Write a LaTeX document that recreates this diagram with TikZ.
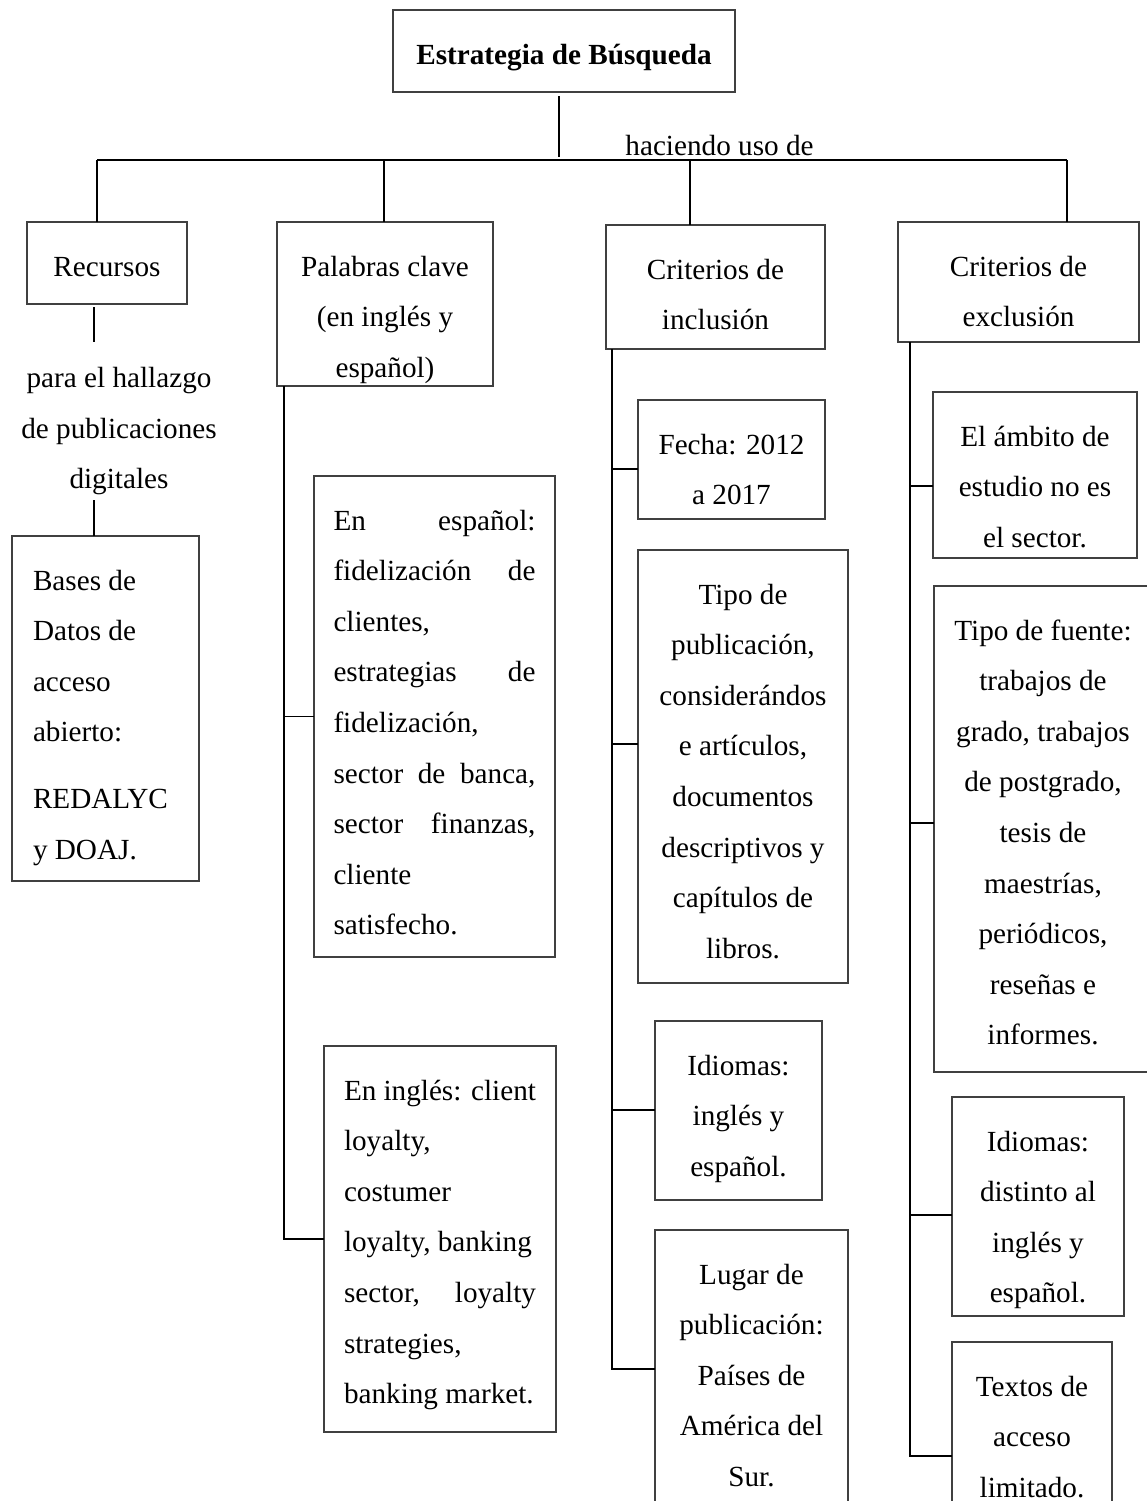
\documentclass[tikz,border=0pt]{standalone}
\usepackage{fontspec}
\setmainfont{Liberation Serif}
\newcommand\fs{\rule{0pt}{27pt}}
\newcommand\jl[1]{\leavevmode\hbox to\linewidth{#1}}
% name, left, top, right, bottom (px), text width (px), content
\newcommand\mybx[7]{\node[bx, minimum width={0.5pt*(#4-#2)}, minimum height={0.5pt*(#5-#3)}] (#1) at ({(#2+#4)/2},{(#3+#5)/2}) {\parbox[c][\dimexpr(#5pt-#3pt)/2\relax][t]{\dimexpr#6pt/2\relax}{#7}};}
\begin{document}
\begin{tikzpicture}[x=0.5pt,y=-0.5pt,
  bx/.style={draw=black!75, line width=0.7pt, inner sep=0pt, outer sep=0pt},
  conn/.style={line width=0.9pt, draw=black},
  every node/.style={font=\fontsize{14.6}{25.3}\selectfont}]
\useasboundingbox (0,0) rectangle (1147,1501);
\clip (0,0) rectangle (1147,1501);
\fill[white] (0,0) rectangle (1147,1501);

% level 0 and 1
\mybx{top}{393}{10}{735}{92}{326}{\centering\fs\textbf{Estrategia de Búsqueda}}
\mybx{rec}{27}{222}{187}{304}{144}{\centering\fs Recursos}
\mybx{pal}{277}{222}{493}{386}{200}{\centering\fs Palabras clave\\(en inglés y\\español)}
\mybx{incl}{606}{225}{825}{349}{203}{\centering\fs Criterios de\\inclusión}
\mybx{excl}{898}{222}{1139}{342}{225}{\centering\fs Criterios de\\exclusión}

% Recursos branch
\node[inner sep=0pt, anchor=north] (para) at (119,333) {\parbox[t]{110pt}{\centering\fs para el hallazgo\\de publicaciones\\digitales}};
\mybx{bases}{12}{536}{199}{881}{145}{\raggedright\fs Bases de\\Datos de\\acceso\\abierto:\\[8pt]REDALYC\\y DOAJ.}

% Palabras clave branch
\mybx{esp}{314}{476}{555}{957}{202}{\raggedright\fs\jl{En\hfill español:}\\\jl{fidelización\hfill de}\\clientes,\\\jl{estrategias\hfill de}\\fidelización,\\\jl{sector\hfill de\hfill banca,}\\\jl{sector\hfill finanzas,}\\cliente\\satisfecho.}
\mybx{ing}{324}{1046}{556}{1432}{192}{\raggedright\fs En inglés: client\\loyalty,\\costumer\\loyalty, banking\\\jl{sector,\hfill loyalty}\\strategies,\\banking market.}

% Inclusion branch
\mybx{fecha}{638}{400}{825}{519}{171}{\centering\fs Fecha: 2012\\a 2017}
\mybx{tpub}{638}{550}{848}{983}{194}{\centering\fs Tipo de\\publicación,\\considerándos\\e artículos,\\documentos\\descriptivos y\\capítulos de\\libros.}
\mybx{idi}{655}{1021}{822}{1200}{151}{\centering\fs Idiomas:\\inglés y\\español.}
\mybx{lugar}{655}{1230}{848}{1540}{177}{\centering\fs Lugar de\\publicación:\\Países de\\América del\\Sur.}

% Exclusion branch
\mybx{amb}{933}{392}{1137}{558}{188}{\centering\fs El ámbito de\\estudio no es\\el sector.}
\mybx{fuente}{934}{586}{1152}{1072}{202}{\centering\fs Tipo de fuente:\\trabajos de\\grado, trabajos\\de postgrado,\\tesis de\\maestrías,\\periódicos,\\reseñas e\\informes.}
\mybx{idx}{952}{1097}{1124}{1316}{156}{\centering\fs Idiomas:\\distinto al\\inglés y\\español.}
\mybx{textos}{952}{1342}{1112}{1540}{144}{\centering\fs Textos de\\acceso\\limitado.}

\node[anchor=base, inner sep=0pt] (uso) at (719.5,155) {haciendo uso de};

% connectors: top level
\coordinate (b1) at (97,160);
\coordinate (b2) at (384,160);
\coordinate (b3) at (690,160);
\coordinate (b4) at (1067,160);
\draw[conn] ([shift={(-2.5pt,-2pt)}]top.south) -- ++(0,61);
\draw[conn] (b1) -- (b4);
\draw[conn] (b1) -- (b1 |- rec.north);
\draw[conn] (b2) -- (b2 |- pal.north);
\draw[conn] (b3) -- (b3 |- incl.north);
\draw[conn] (b4) -- (b4 |- excl.north);

% Recursos
\draw[conn] ([shift={(-6.5pt,-1.5pt)}]rec.south) -- ++(0,35);
\draw[conn] ([xshift=-5.75pt]bases.north) -- ++(0,-36);

% Palabras clave
\coordinate (p) at ([xshift=3.5pt]pal.south west);
\draw[conn] (p) -- (p |- ing.west) -- (ing.west);
\draw[conn] (p |- esp.west) -- (esp.west);

% Inclusion
\coordinate (q) at ([xshift=3pt]incl.south west);
\coordinate (qF) at ([yshift=-34.5pt]fecha.north west);
\coordinate (qT) at ([yshift=-97pt]tpub.north west);
\coordinate (qI) at ([yshift=-44.5pt]idi.north west);
\coordinate (qL) at ([yshift=-69.5pt]lugar.north west);
\draw[conn] (q) -- (q |- qL) -- (qL);
\draw[conn] (q |- qF) -- (qF);
\draw[conn] (q |- qT) -- (qT);
\draw[conn] (q |- qI) -- (qI);

% Exclusion
\coordinate (r) at ([xshift=6pt]excl.south west);
\coordinate (rA) at ([yshift=-47pt]amb.north west);
\coordinate (rF) at ([yshift=-118.5pt]fuente.north west);
\coordinate (rI) at ([yshift=-59pt]idx.north west);
\coordinate (rT) at ([yshift=-57pt]textos.north west);
\draw[conn] (r) -- (r |- rT) -- (rT);
\draw[conn] (r |- rA) -- (rA);
\draw[conn] (r |- rF) -- (rF);
\draw[conn] (r |- rI) -- (rI);
\end{tikzpicture}
\end{document}
